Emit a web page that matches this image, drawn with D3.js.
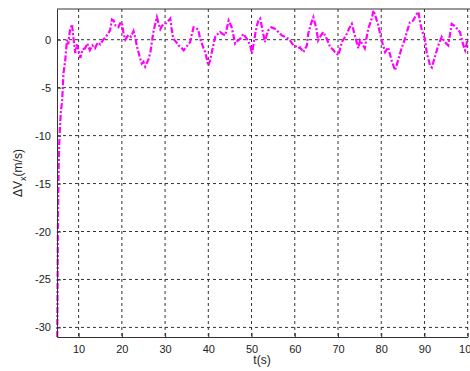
<!DOCTYPE html>
<html>
<head>
<meta charset="utf-8">
<script src="https://cdn.jsdelivr.net/npm/d3@7"></script>
<style>
  body { margin: 0; background: #fff; }
  svg { display: block; }
</style>
</head>
<body>
<div id="chart"></div>
<script>
// time (s) and velocity error
var tValues = [5.05, 5.1, 5.15, 5.2, 5.3, 5.4, 5.5, 5.7, 5.9, 6.2, 6.5, 6.9, 7.3, 7.6, 8.0, 8.47, 8.8, 9.23, 9.6, 10.0,
  10.4, 10.9, 11.5, 12.0, 12.6, 13.2, 13.8, 14.4, 15.0, 15.7, 16.3, 16.9, 17.3, 17.7, 18.1, 18.5, 19.2, 19.6, 20.0, 20.4,
  20.8, 21.5, 22.1, 22.7, 23.1, 23.5, 24.25, 24.6, 25.0, 25.4, 25.8, 26.2, 26.6, 27.3, 27.7, 28.1, 28.5, 28.9, 29.4, 30.0,
  30.6, 31.2, 31.5, 31.9, 32.5, 33.1, 33.7, 34.3, 35.0, 35.8, 36.2, 36.6, 37.2, 37.7, 38.1, 38.9, 39.3, 40.0, 40.4, 40.8,
  41.6, 42.2, 42.7, 43.3, 43.9, 44.3, 44.7, 45.4, 45.8, 46.2, 46.8, 47.4, 48.1, 48.9, 49.7, 50.1, 50.8, 51.2, 51.6, 52.0,
  52.4, 53.1, 53.5, 53.9, 54.6, 55.4, 56.2, 57.0, 57.7, 58.5, 59.1, 59.7, 60.3, 60.8, 61.2, 62.0, 62.8, 63.1, 63.7, 64.3,
  65.0, 65.4, 66.0, 66.6, 67.4, 68.2, 68.8, 69.3, 70.1, 70.9, 71.5, 72.0, 72.6, 73.2, 73.9, 74.7, 75.1, 75.7, 76.2, 76.6,
  77.0, 77.8, 78.2, 78.7, 79.3, 80.1, 80.9, 81.6, 82.0, 82.4, 83.2, 83.9, 84.7, 85.5, 86.0, 86.6, 87.4, 88.2, 88.6, 89.0,
  89.4, 90.1, 90.5, 91.3, 91.7, 92.4, 93.2, 94.0, 94.7, 95.5, 96.3, 97.1, 97.6, 98.2, 99.0, 99.4, 100.0];
var dvValues = [-31, -28, -24, -20, -16, -13, -11, -9, -7.5, -6.3, -3.5, -2.2, 0, -0.5, 1.0, 1.6, 0.2, -1.4, -0.5, -1.2,
  -1.9, -1.0, -0.9, -0.4, -1.1, -0.6, -0.9, -0.3, -0.5, 0.0, 0.3, 0.7, 1.0, 2.1, 2.0, 1.5, 1.3, 1.7, 1.8, 0.6,
  0.0, 0.5, 0.3, 0.9, 0.2, -0.7, -2.0, -2.5, -2.3, -2.8, -2.4, -2.0, -1.3, 0.8, 1.6, 2.35, 1.7, 1.1, 1.5, 1.6,
  1.9, 2.2, 1.2, 0.1, -0.2, -0.6, -0.8, -1.1, -0.7, -0.25, 0.6, 1.3, 1.2, 1.0, 0.1, -0.9, -1.3, -2.7, -2.2, -1.3,
  0.3, 0.6, 0.8, 0.6, 0.45, 1.2, 2.0, 1.3, 0.5, -0.4, -0.1, 0.1, 0.6, 0.1, -0.6, -1.45, 0.45, 1.4, 2.0, 2.2,
  1.3, -0.25, 0.5, 1.0, 1.3, 1.15, 0.8, 0.45, 0.3, 0.1, -0.2, -0.6, -0.7, -0.9, -0.8, -1.3, -0.6, 0.6, 1.6, 2.35,
  1.15, -0.07, 0.4, 0.8, 0.1, -0.8, -1.0, -1.3, -1.6, -0.25, 0.2, 0.6, 1.2, 1.65, 0.45, -0.9, -0.07, -0.5, -0.9, 0.2,
  1.15, 2.2, 3.05, 2.4, 1.5, -0.07, -1.3, -0.8, -1.5, -2.15, -3.2, -2.15, -0.9, 0.1, 0.9, 1.8, 2.0, 2.7, 2.9, 1.8,
  1.0, 0.1, -1.3, -2.7, -2.9, -1.8, -0.6, 0.3, -0.25, -0.6, 1.65, 1.4, 1.1, 0.8, -0.6, -1.1, 0.1];

var xTicks = [10, 20, 30, 40, 50, 60, 70, 80, 90, 100];
var yTicks = [-30, -25, -20, -15, -10, -5, 0];

var W = 470, H = 371;
var margin = {top: 9, left: 57, bottom: 34, right: 2};
var plotW = 410.7, plotH = H - margin.top - margin.bottom;

var svg = d3.select("#chart").append("svg")
    .attr("width", W)
    .attr("height", H);

var x = d3.scaleLinear().domain([5, 100]).range([0, plotW]);
var y = d3.scaleLinear().domain([-31, 3.2]).range([plotH, 0]);

var g = svg.append("g")
    .attr("transform", "translate(" + margin.left + "," + margin.top + ")");

// grid
g.selectAll("line.gx").data(xTicks).enter().append("line")
    .attr("class", "gx")
    .attr("x1", function (d) { return x(d); })
    .attr("x2", function (d) { return x(d); })
    .attr("y1", 0).attr("y2", plotH)
    .attr("stroke", "#333").attr("stroke-width", 1)
    .attr("stroke-dasharray", "3,3");

g.selectAll("line.gy").data(yTicks).enter().append("line")
    .attr("class", "gy")
    .attr("x1", 0).attr("x2", W - margin.left)
    .attr("y1", function (d) { return y(d); })
    .attr("y2", function (d) { return y(d); })
    .attr("stroke", "#333").attr("stroke-width", 1)
    .attr("stroke-dasharray", "3,3");

// the curve
var line = d3.line()
    .x(function (d, i) { return x(tValues[i]); })
    .y(function (d) { return y(d); });

g.append("path")
    .datum(dvValues)
    .attr("d", line)
    .attr("fill", "none")
    .attr("stroke", "#ff00ff")
    .attr("stroke-width", 2.2)
    .attr("stroke-dasharray", "6,2,2,2");

// axes (MATLAB style: inward ticks, plain minus)
var fmt = function (d) { return String(d); };

var xAxis = g.append("g")
    .attr("transform", "translate(0," + plotH + ")")
    .call(d3.axisBottom(x).tickValues(xTicks).tickFormat(fmt).tickSizeInner(-4).tickSizeOuter(0).tickPadding(8));

var yAxis = g.append("g")
    .call(d3.axisLeft(y).tickValues(yTicks).tickFormat(fmt).tickSizeInner(-4).tickSizeOuter(0).tickPadding(6));

[xAxis, yAxis].forEach(function (a) {
    a.select(".domain").attr("stroke", "#333");
    a.selectAll(".tick line").attr("stroke", "#333");
    a.selectAll("text")
        .style("font-family", "Liberation Sans, Arial, sans-serif")
        .style("font-size", "11px")
        .attr("fill", "#222");
});

// top frame line
g.append("line")
    .attr("x1", 0).attr("x2", W - margin.left)
    .attr("y1", 0).attr("y2", 0)
    .attr("stroke", "#333");

// axis labels
svg.append("text")
    .attr("x", 262).attr("y", 364)
    .attr("text-anchor", "middle")
    .style("font-family", "Liberation Sans, Arial, sans-serif")
    .style("font-size", "12px")
    .attr("fill", "#222")
    .text("t(s)");

var yl = svg.append("text")
    .attr("transform", "translate(22,173) rotate(-90)")
    .attr("text-anchor", "middle")
    .style("font-family", "Liberation Sans, Arial, sans-serif")
    .style("font-size", "12px")
    .attr("fill", "#222");
yl.append("tspan").text("\u0394V");
yl.append("tspan").attr("dy", 4).style("font-size", "9px").text("x");
yl.append("tspan").attr("dy", -4).text("(m/s)");
</script>
</body>
</html>
